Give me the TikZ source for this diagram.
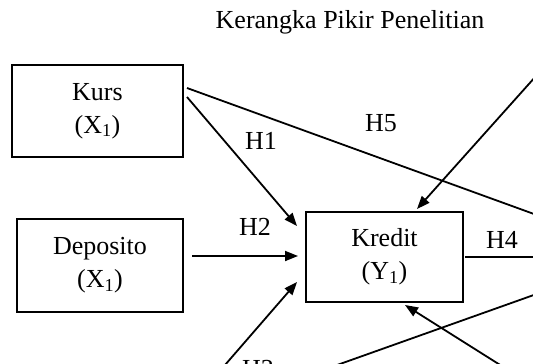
\documentclass[tikz,border=0pt]{standalone}
\usepackage{fontspec}
\setmainfont{Liberation Serif}
\usetikzlibrary{arrows.meta}
\begin{document}
\begin{tikzpicture}[x=1pt,y=-1pt,
  box/.style={draw, line width=1.8pt, align=center, inner sep=0pt, font=\fontsize{26}{33}\selectfont},
  lbl/.style={font=\fontsize{26}{33}\selectfont, inner sep=0pt, anchor=base},
  conn/.style={line width=1.8pt},
  arr/.style={conn, -{Triangle[length=13pt,width=10pt]}}]
\useasboundingbox (0,0) rectangle (533,364);
\clip (0,0) rectangle (533,364);
\node[lbl] (title) at (350,28) {Kerangka Pikir Penelitian};
\node[box, minimum width=171pt, minimum height=92pt] (kurs) at (97.5,111) {Kurs\\(X\textsubscript{1})};
\node[box, minimum width=166pt, minimum height=93pt] (deposito) at (100,265.5) {Deposito\\(X\textsubscript{1})};
\node[box, minimum width=157pt, minimum height=90pt] (kredit) at (384.5,257) {Kredit\\(Y\textsubscript{1})};
% endpoints
\coordinate (h1s) at (187,97);
\coordinate (h1e) at (297,226);
\coordinate (h5s) at (187,88);
\coordinate (h5e) at (545,218);
\coordinate (trs) at (545,66);
\coordinate (tre) at (417,209);
\coordinate (h2s) at (192,256);
\coordinate (h2e) at (298,256);
\coordinate (h3s) at (212,380);
\coordinate (h3e) at (297,282);
\coordinate (h4s) at (465,257);
\coordinate (h4e) at (545,257);
\coordinate (l7s) at (295,380);
\coordinate (l7e) at (545,291);
\coordinate (b8s) at (524,380);
\coordinate (b8e) at (405,305);
\draw[arr] (h1s) -- (h1e);
\draw[conn] (h5s) -- (h5e);
\draw[arr] (trs) -- (tre);
\draw[arr] (h2s) -- (h2e);
\draw[arr] (h3s) -- (h3e);
\draw[conn] (h4s) -- (h4e);
\draw[conn] (l7s) -- (l7e);
\draw[arr] (b8s) -- (b8e);
% labels
\node[lbl] (lh1) at (261,149) {H1};
\node[lbl] (lh5) at (381,131) {H5};
\node[lbl] (lh2) at (255,235) {H2};
\node[lbl] (lh4) at (502,248) {H4};
\node[lbl] (lh3) at (258,377) {H3};
\end{tikzpicture}
\end{document}
